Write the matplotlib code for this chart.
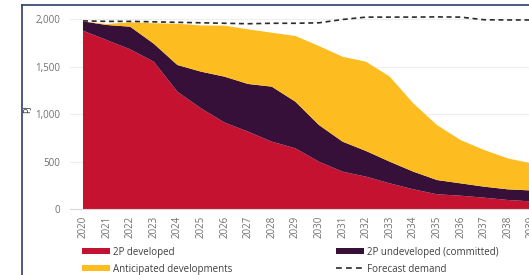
import matplotlib
matplotlib.use("Agg")
import matplotlib.pyplot as plt
from matplotlib.lines import Line2D
from matplotlib.patches import Patch

# data (PJ)
years = list(range(2020, 2041))
developed = [1877, 1779, 1681, 1551, 1235, 1060, 910, 814, 709, 639, 498, 393,
             340, 270, 207, 155, 140, 119, 95, 80, 70]
undeveloped = [98, 158, 238, 189, 281, 386, 483, 502, 579, 491, 386, 316,
               270, 228, 186, 150, 130, 116, 112, 115, 110]
anticipated = [0, 10, 46, 215, 434, 486, 537, 575, 568, 691, 832, 894,
               940, 895, 719, 579, 456, 386, 326, 285, 260]
demand = [1980, 1975, 1975, 1970, 1965, 1960, 1955, 1950, 1955, 1955, 1960,
          1995, 2020, 2020, 2020, 2022, 2020, 1992, 1990, 1990, 1990]

red = "#c41230"
purple = "#37103a"
yellow = "#fdbd21"
grey = "#707070"
dash_style = (0, (3, 2.2))

plt.rcParams["font.family"] = ["Open Sans", "DejaVu Sans"]

W, H = 529, 275
fig = plt.figure(figsize=(W / 100, H / 100), dpi=100)

# axes placed in pixel terms; right side runs past the figure (cropped chart)
x0, x1 = 2019.45, 2040.5
px_per_year = 23.6
left_px, bottom_px, top_px = 70, 209, 9.5
ax = fig.add_axes([
    left_px / W,
    1 - bottom_px / H,
    (x1 - x0) * px_per_year / W,
    (bottom_px - top_px) / H,
])

ax.stackplot(years, developed, undeveloped, anticipated,
             colors=[red, purple, yellow], linewidth=0)
ax.plot(years, demand, color="#2b2b2b", linestyle=dash_style, linewidth=1.2)

ax.set_xlim(x0, x1)
ax.set_ylim(0, 2100)
ax.set_xticks(years)
ax.set_xticklabels([str(y) for y in years], rotation=90)
ax.set_yticks([0, 500, 1000, 1500, 2000])
ax.set_yticklabels(["0", "500", "1,000", "1,500", "2,000"])
ax.tick_params(axis="both", length=0, labelsize=7, colors=grey)
ax.tick_params(axis="y", pad=7)
ax.tick_params(axis="x", pad=5)
ax.grid(axis="y", color="#eeeeee", linewidth=0.8)
ax.set_axisbelow(True)
for side in ["top", "right", "left"]:
    ax.spines[side].set_visible(False)
ax.spines["bottom"].set_color("#d9d9d9")
ax.spines["bottom"].set_linewidth(0.8)
ax.set_ylabel("PJ", fontsize=6.5, color="#333333", labelpad=3)

handles = [
    Patch(facecolor=red, edgecolor="none", label="2P developed"),
    Patch(facecolor=yellow, edgecolor="none", label="Anticipated developments"),
    Patch(facecolor=purple, edgecolor="none", label="2P undeveloped (committed)"),
    Line2D([], [], color="#2b2b2b", linestyle=(0, (3.5, 2.5)), linewidth=1.2,
           label="Forecast demand"),
]
fig.legend(handles=handles, ncol=2, loc="upper left",
           bbox_to_anchor=(81.5 / W, 1 - 246.5 / H), frameon=False,
           fontsize=7, labelcolor="#404040", handlelength=2.9,
           handleheight=0.47, handletextpad=0.3, columnspacing=10.7,
           labelspacing=0.62, borderaxespad=0, borderpad=0)

# outer frame (only left and top edges remain in the crop)
frame = "#2c3e6b"
fig.add_artist(Line2D([22 / W, 22 / W], [0, 1 - 5 / H], color=frame,
                      linewidth=1.2, transform=fig.transFigure))
fig.add_artist(Line2D([22 / W, 1], [1 - 5 / H, 1 - 5 / H], color=frame,
                      linewidth=1.2, transform=fig.transFigure))

fig.savefig("out.png", dpi=100)
